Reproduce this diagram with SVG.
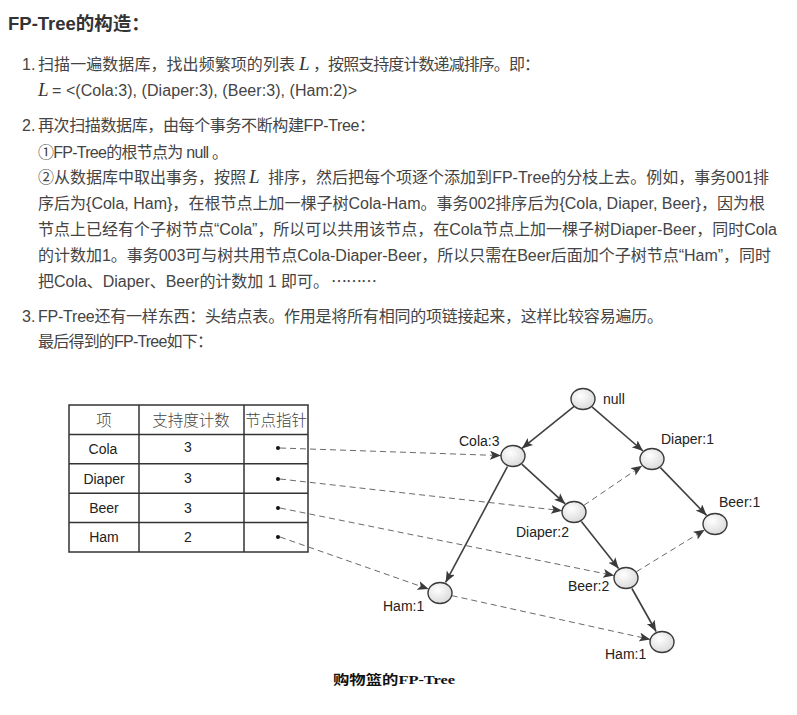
<svg xmlns="http://www.w3.org/2000/svg" width="797" height="715" viewBox="0 0 797 715">
<defs>
<style>
.body{font-family:"Liberation Sans","Noto Sans CJK SC",sans-serif;font-size:16px;fill:#444;}
.cjk{font-family:"Noto Sans CJK SC",sans-serif;}
.math{font-family:"Liberation Serif",serif;font-style:italic;font-size:19px;fill:#333;}
.title{font-family:"Liberation Sans","Noto Sans CJK SC",sans-serif;font-size:18.5px;font-weight:bold;fill:#333;}
.cell{font-family:"Liberation Sans","Noto Sans CJK SC",sans-serif;font-size:14px;fill:#222;text-anchor:middle;}
.head{font-family:"Noto Sans CJK SC",sans-serif;font-size:15.5px;font-weight:300;fill:#444;}
.lbl{font-family:"Liberation Sans",sans-serif;font-size:14px;fill:#222;}
.cap{font-family:"Liberation Serif","Noto Sans CJK SC",serif;font-size:13px;font-weight:bold;fill:#111;}
.node{fill:url(#g);stroke:#3a3a3a;stroke-width:1.4;}
.solid{stroke:#404040;stroke-width:1.6;fill:none;marker-end:url(#ah);}
.dash{stroke:#6a6a6a;stroke-width:1;fill:none;stroke-dasharray:6 4;marker-end:url(#ah);}
.grid{stroke:#333;stroke-width:1.5;fill:none;}
</style>
<radialGradient id="g" cx="0.4" cy="0.35" r="0.7">
<stop offset="0" stop-color="#ffffff"/>
<stop offset="1" stop-color="#d8d8d8"/>
</radialGradient>
<marker id="ah" markerUnits="userSpaceOnUse" markerWidth="12" markerHeight="10" refX="11" refY="4.5" orient="auto">
<path d="M0,0 L11,4.5 L0,9 L2.5,4.5 z" fill="#3a3a3a"/>
</marker>
<clipPath id="tclip"><rect x="69" y="405" width="239" height="147"/></clipPath>
</defs>

<g id="text">
<text class="title" x="8" y="29.5">FP-Tree的构造：</text>

<text class="body" x="22" y="70">1.</text>
<text class="body" x="38" y="70" textLength="257" lengthAdjust="spacing">扫描一遍数据库，找出频繁项的列表</text>
<text class="math" x="299" y="70">L</text>
<text class="body" x="313" y="70" textLength="227" lengthAdjust="spacing">，按照支持度计数递减排序。即：</text>
<text class="math" x="38" y="96">L</text>
<text class="body" x="52" y="96" textLength="305" lengthAdjust="spacing"> = &lt;(Cola:3), (Diaper:3), (Beer:3), (Ham:2)&gt;</text>

<text class="body" x="22" y="131">2.</text>
<text class="body" x="38" y="131" textLength="337" lengthAdjust="spacing">再次扫描数据库，由每个事务不断构建FP-Tree：</text>
<text class="body" x="38" y="158" textLength="190" lengthAdjust="spacing">①FP-Tree的根节点为 null 。</text>
<text class="body" x="38" y="183" textLength="208" lengthAdjust="spacing">②从数据库中取出事务，按照</text>
<text class="math" x="249" y="183">L</text>
<text class="body" x="268" y="183" textLength="501" lengthAdjust="spacing">排序，然后把每个项逐个添加到FP-Tree的分枝上去。例如，事务001排</text>
<text class="body" x="38" y="209" textLength="727" lengthAdjust="spacing">序后为{Cola, Ham}，在根节点上加一棵子树Cola-Ham。事务002排序后为{Cola, Diaper, Beer}，因为根</text>
<text class="body" x="38" y="235" textLength="739" lengthAdjust="spacing">节点上已经有个子树节点“Cola”，所以可以共用该节点，在Cola节点上加一棵子树Diaper-Beer，同时Cola</text>
<text class="body" x="38" y="261" textLength="733" lengthAdjust="spacing">的计数加1。事务003可与树共用节点Cola-Diaper-Beer，所以只需在Beer后面加个子树节点“Ham”，同时</text>
<text class="body" x="38" y="287" textLength="291" lengthAdjust="spacing">把Cola、Diaper、Beer的计数加 1 即可。</text>
<text class="body cjk" x="331" y="287" textLength="46" lengthAdjust="spacing">………</text>

<text class="body" x="22" y="322">3.</text>
<text class="body" x="38" y="322" textLength="625" lengthAdjust="spacing">FP-Tree还有一样东西：头结点表。作用是将所有相同的项链接起来，这样比较容易遍历。</text>
<text class="body" x="38" y="347" textLength="175" lengthAdjust="spacing">最后得到的FP-Tree如下：</text>
</g>

<g id="header-table">
<g clip-path="url(#tclip)">
<text class="head" x="104" y="426" text-anchor="middle">项</text>
<text class="head" x="191" y="426" text-anchor="middle">支持度计数</text>
<text class="head" x="245" y="426">节点指针</text>
</g>
<rect class="grid" x="69" y="405" width="239" height="147"/>
<line class="grid" x1="139" y1="405" x2="139" y2="552"/>
<line class="grid" x1="244" y1="405" x2="244" y2="552"/>
<line class="grid" x1="69" y1="434.4" x2="308" y2="434.4"/>
<line class="grid" x1="69" y1="463.8" x2="308" y2="463.8"/>
<line class="grid" x1="69" y1="493.2" x2="308" y2="493.2"/>
<line class="grid" x1="69" y1="522.6" x2="308" y2="522.6"/>
<text class="cell" x="103" y="454">Cola</text>
<text class="cell" x="188" y="452">3</text>
<text class="cell" x="104" y="483.5">Diaper</text>
<text class="cell" x="188" y="483">3</text>
<text class="cell" x="104" y="513">Beer</text>
<text class="cell" x="188" y="513">3</text>
<text class="cell" x="104" y="542">Ham</text>
<text class="cell" x="188" y="542">2</text>
<circle cx="278" cy="448" r="2" fill="#111"/>
<circle cx="278" cy="479" r="2" fill="#111"/>
<circle cx="278" cy="508" r="2" fill="#111"/>
<circle cx="278" cy="537" r="2" fill="#111"/>
</g>

<g id="connectors">
<line class="solid" x1="574.1" y1="406.3" x2="521.9" y2="448.4"/>
<line class="solid" x1="592" y1="406.9" x2="643" y2="451"/>
<line class="solid" x1="521.8" y1="464.1" x2="565.2" y2="503.9"/>
<line class="solid" x1="507.4" y1="466.6" x2="445.6" y2="582.4"/>
<line class="solid" x1="660.4" y1="467.6" x2="706.6" y2="515.4"/>
<line class="solid" x1="581.4" y1="521.4" x2="618.6" y2="568.6"/>
<line class="solid" x1="631.9" y1="588.5" x2="656.1" y2="631.5"/>

<line class="dash" x1="280" y1="448" x2="501" y2="455.6"/>
<line class="dash" x1="280" y1="479" x2="562.1" y2="510.7"/>
<line class="dash" x1="280" y1="508" x2="614.2" y2="575.6"/>
<line class="dash" x1="280" y1="537" x2="428.7" y2="589.1"/>
<line class="dash" x1="583.9" y1="505.3" x2="642.1" y2="465.7"/>
<line class="dash" x1="636.3" y1="571.8" x2="704.7" y2="529.8"/>
<line class="dash" x1="451.7" y1="595.6" x2="650.3" y2="639.4"/>
</g>

<g id="n-null"><ellipse class="node" cx="583" cy="399" rx="12" ry="10.5"/><text class="lbl" x="603" y="404">null</text></g>
<g id="n-cola3"><ellipse class="node" cx="513" cy="456" rx="12" ry="10.5"/><text class="lbl" x="459" y="446">Cola:3</text></g>
<g id="n-diaper1"><ellipse class="node" cx="652" cy="459" rx="12" ry="10.5"/><text class="lbl" x="661" y="444">Diaper:1</text></g>
<g id="n-diaper2"><ellipse class="node" cx="574" cy="512" rx="12" ry="10.5"/><text class="lbl" x="516" y="537">Diaper:2</text></g>
<g id="n-beer1"><ellipse class="node" cx="715" cy="524" rx="12" ry="10.5"/><text class="lbl" x="719" y="507">Beer:1</text></g>
<g id="n-beer2"><ellipse class="node" cx="626" cy="578" rx="12" ry="10.5"/><text class="lbl" x="568" y="591">Beer:2</text></g>
<g id="n-ham1a"><ellipse class="node" cx="440" cy="593" rx="12" ry="10.5"/><text class="lbl" x="383" y="611">Ham:1</text></g>
<g id="n-ham1b"><ellipse class="node" cx="662" cy="642" rx="12" ry="10.5"/><text class="lbl" x="605" y="659">Ham:1</text></g>

<g id="caption"><text class="cap" x="333" y="684" textLength="122" lengthAdjust="spacingAndGlyphs">购物篮的FP-Tree</text></g>
</svg>
